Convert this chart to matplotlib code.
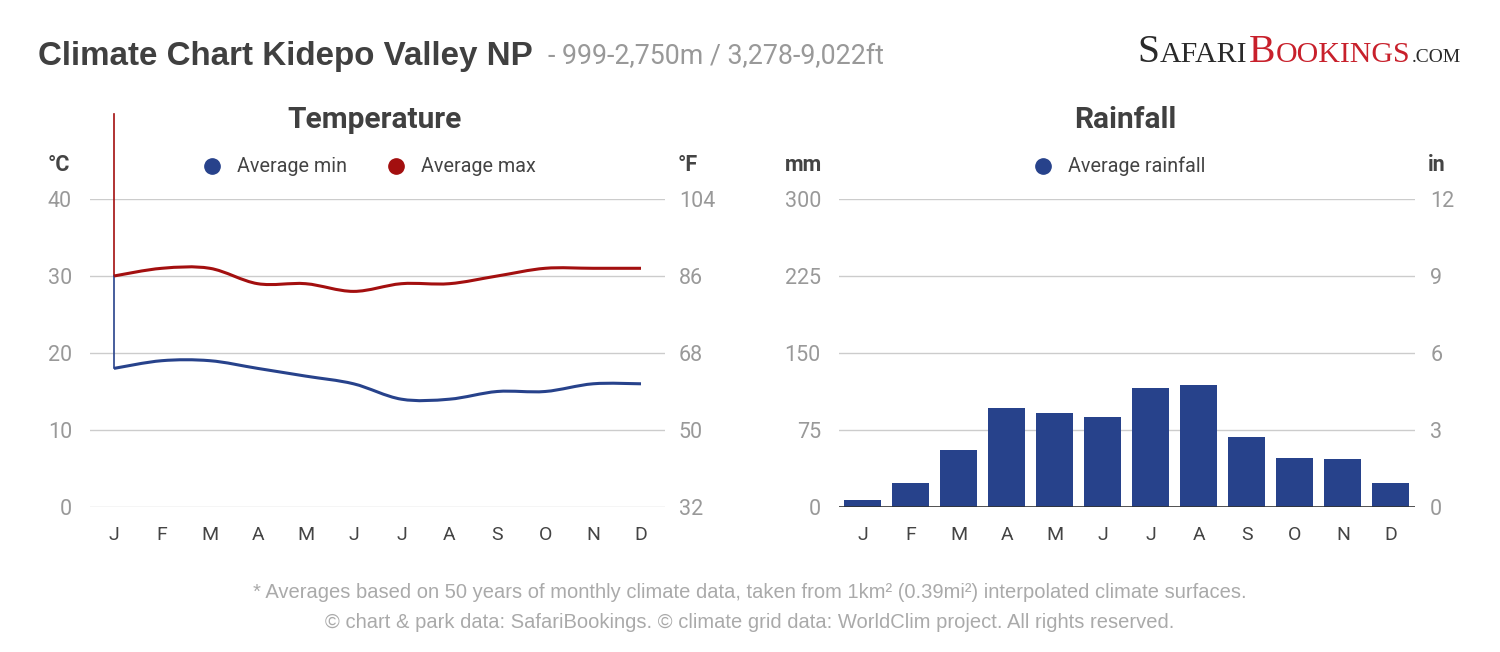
import matplotlib
matplotlib.use('Agg')
import matplotlib.pyplot as plt
from matplotlib.path import Path
from matplotlib.patches import PathPatch

plt.rcParams['font.family'] = ['Roboto', 'DejaVu Sans']

months = ['J', 'F', 'M', 'A', 'M', 'J', 'J', 'A', 'S', 'O', 'N', 'D']
temp_min = [18, 19, 19, 18, 17, 16, 14, 14, 15, 15, 16, 16]
temp_max = [30, 31, 31, 29, 29, 28, 29, 29, 30, 31, 31, 31]
rainfall = [7, 23, 56, 96, 92, 88, 116, 119, 68, 48, 47, 23]

c_ticks = [0, 10, 20, 30, 40]
f_ticks = [32, 50, 68, 86, 104]
mm_ticks = [0, 75, 150, 225, 300]
in_ticks = [0, 3, 6, 9, 12]

BLUE = '#27428b'
RED = '#a30f0f'
GRID = '#cccccc'
TICK = '#999999'
DARK = '#444444'


def smooth_path(xs, ys, t=0.5):
    # catmull-rom through the points, drawn as cubic bezier segments
    verts = [(xs[0], ys[0])]
    codes = [Path.MOVETO]
    n = len(xs)
    for i in range(n - 1):
        x0, y0 = (xs[i - 1], ys[i - 1]) if i > 0 else (xs[i], ys[i])
        x1, y1 = xs[i], ys[i]
        x2, y2 = xs[i + 1], ys[i + 1]
        x3, y3 = (xs[i + 2], ys[i + 2]) if i + 2 < n else (x2, y2)
        c1 = (x1 + (x2 - x0) * t / 3, y1 + (y2 - y0) * t / 3)
        c2 = (x2 - (x3 - x1) * t / 3, y2 - (y3 - y1) * t / 3)
        verts += [c1, c2, (x2, y2)]
        codes += [Path.CURVE4] * 3
    return Path(verts, codes)


def style_axis(ax, pad):
    ax.tick_params(axis='y', length=0, labelsize=15.5, labelcolor=TICK, pad=pad)
    ax.tick_params(axis='x', length=0, labelsize=14, labelcolor=DARK, pad=14)
    for s in ax.spines.values():
        s.set_visible(False)


fig = plt.figure(figsize=(15, 6.52), dpi=100)
x = list(range(12))

# ---- temperature
ax1 = fig.add_axes([0.06, 0.2224, 0.3833, 0.4724])
ax1.set_xlim(-0.5, 11.5)
ax1.set_ylim(0, 40)
for v in c_ticks:
    ax1.axhline(v, color=GRID, lw=1, zorder=0)
for vals, col in [(temp_min, BLUE), (temp_max, RED)]:
    ax1.add_patch(PathPatch(smooth_path(x, vals), fill=False, edgecolor=col,
                            lw=2.2, capstyle='butt', zorder=3))
# the odd vertical strokes at the first month
ax1.plot([0, 0], [temp_max[0], 51], color=RED, lw=1.2, clip_on=False, zorder=2)
ax1.plot([0, 0], [temp_min[0], temp_max[0]], color=BLUE, lw=1.2, zorder=2)
ax1.set_yticks(c_ticks)
ax1.set_xticks(x)
ax1.set_xticklabels(months)
style_axis(ax1, 13)
ax1r = ax1.twinx()
ax1r.set_ylim(32, 104)
ax1r.set_yticks(f_ticks)
style_axis(ax1r, 10)

# ---- rainfall
ax2 = fig.add_axes([0.5593, 0.2224, 0.384, 0.4724])
ax2.set_xlim(-0.5, 11.5)
ax2.set_ylim(0, 300)
for v in mm_ticks[1:]:
    ax2.axhline(v, color=GRID, lw=1, zorder=0)
ax2.bar(x, rainfall, width=0.77, color=BLUE, zorder=2)
ax2.axhline(0, color='#333333', lw=1.2, zorder=3)
ax2.set_yticks(mm_ticks)
ax2.set_xticks(x)
ax2.set_xticklabels(months)
style_axis(ax2, 13)
ax2r = ax2.twinx()
ax2r.set_ylim(0, 12)
ax2r.set_yticks(in_ticks)
style_axis(ax2r, 11)


def px(xp, yp):
    return xp / 1500, 1 - yp / 652


# ---- headings
fig.text(*px(38, 56), 'Climate Chart Kidepo Valley NP', fontsize=23.9,
         fontweight='bold', color='#404040', va='center',
         family='Liberation Sans')
fig.text(*px(548, 57), '- 999-2,750m / 3,278-9,022ft', fontsize=19.3,
         color='#999999', va='center')
fig.text(*px(375, 120), 'Temperature', fontsize=21.5, fontweight='bold',
         color='#404040', ha='center', va='center')
fig.text(*px(1125, 120), 'Rainfall', fontsize=21.5, fontweight='bold',
         color='#404040', ha='center', va='center')
for xp, s in [(59, '°C'), (688, '°F'), (803, 'mm'), (1437, 'in')]:
    fig.text(*px(xp, 165), s, fontsize=15.5, fontweight='bold', color=DARK,
             ha='center', va='center')

# legends
for xp, col, lab in [(212, BLUE, 'Average min'), (396, RED, 'Average max'),
                     (1043, BLUE, 'Average rainfall')]:
    fig.lines.append(plt.Line2D([xp / 1500], [1 - 166 / 652], marker='o',
                                markersize=11, color=col,
                                transform=fig.transFigure))
    fig.text(*px(xp + 25, 166), lab, fontsize=14.2, color=DARK, va='center')

# logo, pieces placed one after another
renderer = fig.canvas.get_renderer()
pieces = [('S', 28.5, '#2a2a2a'), ('AFARI', 21.5, '#2a2a2a'),
          ('B', 28.5, '#c8202b'), ('OOKINGS', 21.5, '#c8202b'),
          ('.COM', 14, '#2a2a2a')]
xp = 1137
for s, size, col in pieces:
    t = fig.text(*px(xp, 62), s, fontsize=size, color=col, va='baseline',
                 family='Liberation Serif')
    xp = t.get_window_extent(renderer).x1 + 1

# footer
fig.text(0.5, 1 - 592 / 652,
         '* Averages based on 50 years of monthly climate data, taken from '
         '1km² (0.39mi²) interpolated climate surfaces.',
         fontsize=14.5, color='#aaaaaa', ha='center', va='center',
         family='Liberation Sans')
fig.text(0.5, 1 - 622 / 652,
         '© chart & park data: SafariBookings. © climate grid data: '
         'WorldClim project. All rights reserved.',
         fontsize=14.5, color='#aaaaaa', ha='center', va='center',
         family='Liberation Sans')

fig.savefig('out.png', dpi=100, facecolor='white')
